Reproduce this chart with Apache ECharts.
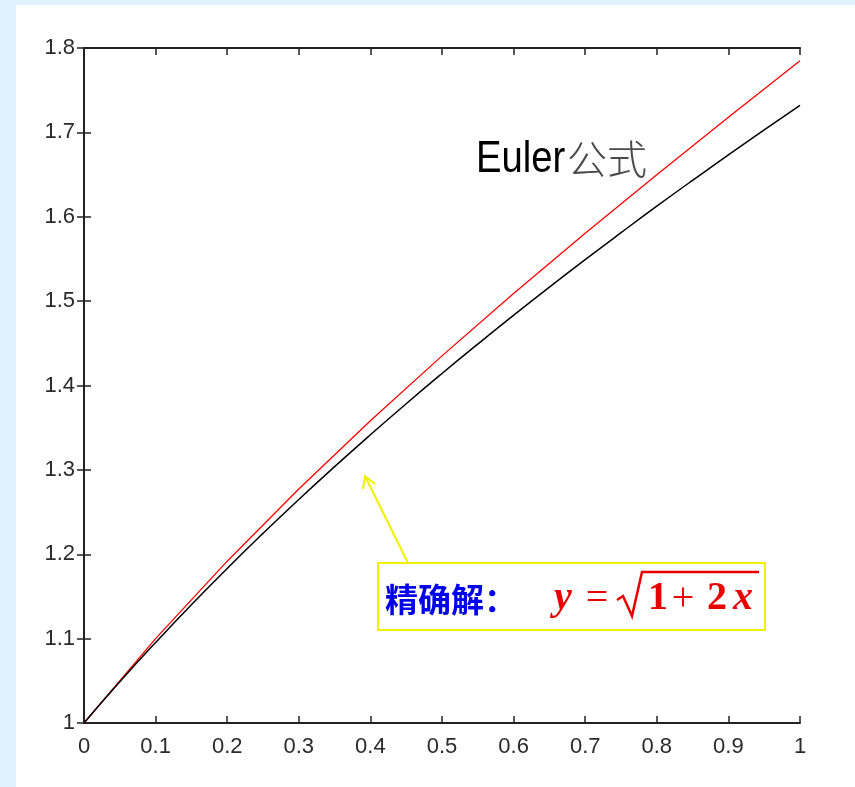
<!DOCTYPE html>
<html><head><meta charset="utf-8">
<script src="https://cdn.jsdelivr.net/npm/echarts@6/dist/echarts.min.js"></script>
<style>html,body{margin:0;padding:0;background:#dff1fc;}#c{position:absolute;left:0;top:0;width:855px;height:787px;}</style>
</head><body><div id="c"></div>
<script>
const xExact = [0,0.05,0.1,0.15,0.2,0.25,0.3,0.35,0.4,0.45,0.5,0.55,0.6,0.65,0.7,0.75,0.8,0.85,0.9,0.95,1];
const yExact = [1,1.0488,1.0954,1.1402,1.1832,1.2247,1.2649,1.3038,1.3416,1.3784,1.4142,1.4491,1.4832,1.5166,1.5492,1.5811,1.6125,1.6432,1.6733,1.7029,1.7321];
const xEuler = [0,0.1,0.2,0.3,0.4,0.5,0.6,0.7,0.8,0.9,1];
const yEuler = [1,1.1,1.1918,1.2774,1.3582,1.4351,1.5090,1.5803,1.6498,1.7178,1.7848];
const xTicks = ['0','0.1','0.2','0.3','0.4','0.5','0.6','0.7','0.8','0.9','1'];
const yTicks = ['1','1.1','1.2','1.3','1.4','1.5','1.6','1.7','1.8'];

const chart = echarts.init(document.getElementById('c'));
const lbl = {color:'#2a2a2a', fontFamily:'Liberation Sans, Arial', fontSize:22};
const axLine = {show:true, lineStyle:{color:'#222', width:2}};
const tick = {show:true, inside:true, length:7, lineStyle:{color:'#222', width:1.5}};
const red = '#e80000';
const serifB = 'bold 40px "Liberation Serif"';
const serifBI = 'italic bold 40px "Liberation Serif"';
function ftxt(t, cx, font){
  return {type:'text', x:cx, y:599, z:11, style:{text:t, font:font, fill:red, textAlign:'center', textVerticalAlign:'middle'}};
}
chart.setOption({
  backgroundColor:'transparent',
  animation:false,
  graphic:[
    {type:'rect', shape:{x:16,y:5,width:839,height:782}, style:{fill:'#ffffff'}, z:-10},
    {type:'text', x:476, y:160, scaleX:0.87, z:10, style:{text:'Euler', font:'44px "Liberation Sans", Arial', fill:'#000', textVerticalAlign:'middle'}},
    {type:'text', x:567, y:159, z:10, style:{text:'公式', font:'300 40px "Noto Sans CJK SC"', fill:'#4a4a4a', textVerticalAlign:'middle'}},
    {type:'rect', shape:{x:378,y:563,width:387,height:67}, style:{fill:'#ffffff', stroke:'#f2f000', lineWidth:2}, z:10},
    {type:'text', x:385, y:599, z:11, style:{text:'精确解：', font:'bold 33px "Noto Sans CJK SC"', fill:'#0000ee', textVerticalAlign:'middle'}},
    ftxt('y', 563, serifBI),
    ftxt('=', 597, '40px "Liberation Serif"'),
    ftxt('1', 658, serifB),
    ftxt('+', 683, '40px "Liberation Serif"'),
    ftxt('2', 717, serifB),
    ftxt('x', 743, serifBI),
    {type:'polyline', z:11, shape:{points:[[617,600],[623,596],[632,616],[642,572],[759,572]]}, style:{stroke:red, lineWidth:2.5, fill:null}},
    {type:'line', shape:{x1:408,y1:563,x2:365,y2:476}, style:{stroke:'#f2f000', lineWidth:2}, z:10},
    {type:'polyline', shape:{points:[[363,489],[365,476],[375,484]]}, style:{stroke:'#f2f000', lineWidth:2, fill:null}, z:10}
  ],
  grid:{left:84, top:48, width:716, height:675},
  xAxis:[
    {type:'value', min:0, max:1, interval:0.1, position:'bottom', axisLine:axLine, axisTick:tick, splitLine:{show:false},
     axisLabel:Object.assign({margin:13, formatter:(v)=>xTicks[Math.round(v*10)]}, lbl)},
    {type:'value', min:0, max:1, interval:0.1, position:'top', axisLine:axLine, axisTick:tick, splitLine:{show:false}, axisLabel:{show:false}}
  ],
  yAxis:[
    {type:'value', min:1, max:1.8, interval:0.1, position:'left', axisLine:axLine, axisTick:tick, splitLine:{show:false},
     axisLabel:Object.assign({margin:9, formatter:(v)=>yTicks[Math.round((v-1)*10)]}, lbl)},
    {type:'value', min:1, max:1.8, interval:0.1, position:'right', axisLine:axLine, axisTick:tick, splitLine:{show:false}, axisLabel:{show:false}}
  ],
  series:[
    {type:'line', data:xEuler.map((x,i)=>[x,yEuler[i]]), showSymbol:false, lineStyle:{color:'#ff0000', width:1.3}},
    {type:'line', data:xExact.map((x,i)=>[x,yExact[i]]), showSymbol:false, smooth:true, lineStyle:{color:'#000000', width:1.5}}
  ]
});
</script></body></html>
